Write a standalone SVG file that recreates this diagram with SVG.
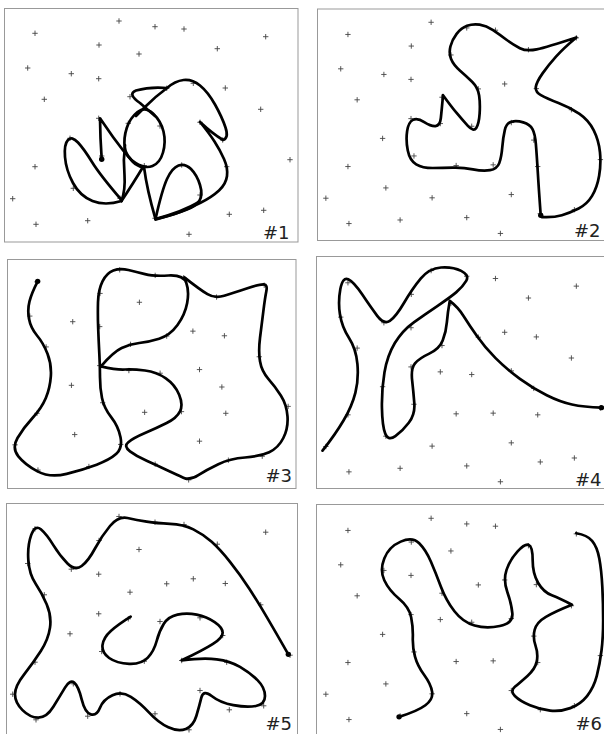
<svg xmlns="http://www.w3.org/2000/svg" width="604" height="734" viewBox="0 0 604 734">
<style>
.frame{fill:#fff;stroke:#999;stroke-width:1}
.c{fill:none;stroke:#000;stroke-width:2.7;stroke-linecap:round;stroke-linejoin:round;vector-effect:non-scaling-stroke}
.dot{fill:#000}
.lbl{font-family:"DejaVu Sans",sans-serif;font-size:18px;fill:#222;text-anchor:end}
</style>
<defs>
<path id="pts" fill="none" stroke="#444" stroke-width="0.9" d="M116.3,21h5.4M119,18.3v5.4M152.3,26.7h5.4M155,24v5.4M181.3,29h5.4M184,26.3v5.4M32.3,33.3h5.4M35,30.6v5.4M263,36.7h5.4M265.7,34v5.4M96.3,45h5.4M99,42.3v5.4M214.6,48.7h5.4M217.3,46v5.4M136.3,54h5.4M139,51.3v5.4M25,68h5.4M27.7,65.3v5.4M68.6,73.7h5.4M71.3,71v5.4M96,78.7h5.4M98.7,76v5.4M190.6,83.3h5.4M193.3,80.6v5.4M222.6,88h5.4M225.3,85.3v5.4M164,88.3h5.4M166.7,85.6v5.4M127.3,96.7h5.4M130,94v5.4M41.6,99.3h5.4M44.3,96.6v5.4M258,109.3h5.4M260.7,106.6v5.4M96,118.3h5.4M98.7,115.6v5.4M125.6,123.3h5.4M128.3,120.6v5.4M197.3,122.3h5.4M200,119.6v5.4M157.3,126h5.4M160,123.3v5.4M67.3,138.3h5.4M70,135.6v5.4M220,140h5.4M222.7,137.3v5.4M99,156h5.4M101.7,153.3v5.4M287.3,159.7h5.4M290,157v5.4M141.6,165.7h5.4M144.3,163v5.4M179,165h5.4M181.7,162.3v5.4M224,166.7h5.4M226.7,164v5.4M32.3,166.7h5.4M35,164v5.4M70.6,188.3h5.4M73.3,185.6v5.4M117.3,198.3h5.4M120,195.6v5.4M197.3,195h5.4M200,192.3v5.4M10,198.7h5.4M12.7,196v5.4M261,210.3h5.4M263.7,207.6v5.4M226.6,214.3h5.4M229.3,211.6v5.4M152.3,218.3h5.4M155,215.6v5.4M85,220.7h5.4M87.7,218v5.4M33.3,224.3h5.4M36,221.6v5.4M186.3,234.3h5.4M189,231.6v5.4"/>
</defs>
<rect width="604" height="734" fill="#fff"/>

<g id="panel1">
<rect class="frame" x="4.5" y="8.5" width="293.5" height="233.5"/>
<use href="#pts"/>
<path class="c" d="M101.7,159.3 L100.5,138 L100,118.3 L113,137 Q123,151 133,162 Q137,166 143.5,167.5"/>
<path class="c" d="M135.5,163 Q145,169 152.5,166 Q160,163 163,152.5 Q166,142 163.5,131.5 Q161,121 153,113.5 Q145,106 137.5,112 Q130,118 126.75,128 Q123.5,138 124.75,147.5 Q126,157 135.5,163Z"/>
<path class="c" d="M155,116 L140,103 Q127,94 136,90.5 Q150,86.5 167,88 Q156,96 145,107 L136,116"/>
<path class="c" d="M167,88 Q175,81 183.5,80 Q192,79 200,85.5 Q208,92 215,104.5 Q222,117 225.5,127.5 Q229,138 223,140 Q213,134 200,122 Q209,133 214.5,141.5 Q220,150 224,159 Q228,168 227,176 Q226,184 219,190.5 Q212,197 201,202.5 Q190,208 180,212 Q170,216 155.5,219"/>
<path class="c" d="M125,145 Q123,160 124.5,175 Q125.5,190 121.5,201"/>
<path class="c" d="M143,167 Q134,182 121.5,201"/>
<path class="c" d="M121.5,201 Q105,206 92.5,201 Q80,196 73,183 Q66,170 65,157 Q64,144 68,140 Q72,136 78,142.5 Q84,149 92,162 Q100,175 121.5,200"/>
<path class="c" d="M144,167 Q147,190 155.5,219"/>
<path class="c" d="M155.5,219 Q162,190 167,179 Q172,168 178.5,165.5 Q185,163 191,169 Q197,175 200,185 Q203,195 199.5,200.5 Q196,206 187,209.5 Q178,213 156,219.5"/>
<path class="c" d="M157,218.5 Q182,212 199,202"/>
<circle class="dot" cx="101.7" cy="159.3" r="2.7"/>
<text class="lbl" x="289.5" y="238.7">#1</text>
</g>

<g id="panel2">
<rect class="frame" x="317.5" y="9" width="300" height="231.5"/>
<use href="#pts" transform="translate(313.3,1.5) scale(0.99)"/>
<g transform="translate(301.7,-0.5) scale(0.3357)">
<path class="c" d="M712,643 Q706,560 703,510 Q700,460 697.5,430 Q695,400 687.5,386 Q680,372 660,366 Q640,360 625,364 Q610,368 605,389 Q600,410 597.5,440 Q595,470 588.5,487.5 Q582,505 561,508.5 Q540,512 510,506 Q480,500 450,501 Q420,502 390,502 Q360,502 341,491 Q322,480 316,450 Q310,420 314,392.5 Q318,365 331.5,358.5 Q345,352 365,365 Q385,378 398.5,377 Q412,376 414.5,353 Q417,330 421,285 Q445,318 461.5,338 Q478,358 495,376.5 Q512,395 520,382.5 Q528,370 530,340 Q532,310 528.5,286 Q525,262 507.5,245 Q490,228 471,211.5 Q452,195 445,177.5 Q438,160 443,140 Q448,120 461.5,102.5 Q475,85 492.5,78.5 Q510,72 530,75 Q550,78 570,91.5 Q590,105 610,120 Q630,135 650,145 Q670,155 700,148.5 Q730,142 818,113 Q780,145 757.5,170 Q735,195 717.5,220 Q700,245 697.5,260 Q695,275 712.5,285 Q730,295 765,308.5 Q800,322 827.5,341 Q855,360 870,390 Q885,420 888.5,455 Q892,490 886,525 Q880,560 865,585 Q850,610 825,622.5 Q800,635 775,642.5 Q750,650 715,648"/>
<circle class="dot" cx="712" cy="643" r="8"/>
</g>
<text class="lbl" x="600.5" y="237">#2</text>
</g>

<g id="panel3">
<rect class="frame" x="7.5" y="259.5" width="288.5" height="229"/>
<use href="#pts" transform="translate(2.5,249.1) scale(0.985)"/>
<g transform="translate(0,248) scale(0.33333)">
<path class="c" d="M113,100 Q95,135 88.5,160 Q82,185 87,212.5 Q92,240 111,262.5 Q130,285 142.5,317.5 Q155,350 152.5,385 Q150,420 137.5,450 Q125,480 97.5,510 Q70,540 52.5,570 Q35,600 55,625 Q75,650 112.5,670 Q150,690 200,677.5 Q250,665 290,650 Q330,635 349,617.5 Q368,600 361.5,567.5 Q355,535 333.5,507.5 Q312,480 306,450 Q300,420 300,387.5 Q300,355 298,317.5 Q296,280 294.5,240 Q293,200 294,162.5 Q295,125 307.5,100 Q320,75 340,67.5 Q360,60 385,66 Q410,72 435,78.5 Q460,85 505,82.5 Q550,80 559,105 Q568,130 561.5,165 Q555,200 532.5,231 Q510,262 477.5,272 Q445,282 417.5,285 Q390,288 365,300 Q340,312 303,355 Q350,366 375,364.5 Q400,363 435,367.5 Q470,372 497.5,391 Q525,410 537.5,440 Q550,470 540,490 Q530,510 500,525 Q470,540 435,555 Q400,570 385,582.5 Q370,595 390,610 Q410,625 440,638.5 Q470,652 500,666 Q530,680 550,689 Q570,698 595,681.5 Q620,665 655,648.5 Q690,632 735,628.5 Q780,625 807.5,612.5 Q835,600 850,570 Q865,540 862.5,505 Q860,470 842.5,442.5 Q825,415 805,392.5 Q785,370 780,340 Q775,310 780,270 Q785,230 790,190 Q795,150 799,130 Q803,110 791.5,109 Q780,108 740,121.5 Q700,135 672.5,143.5 Q645,152 622.5,138.5 Q600,125 553,88"/>
<circle class="dot" cx="113" cy="100" r="8"/>
</g>
<text class="lbl" x="292" y="481.5">#3</text>
</g>

<g id="panel4">
<rect class="frame" x="316.5" y="256.5" width="300" height="232"/>
<use href="#pts" transform="translate(313.3,249.8) scale(0.99)"/>
<g transform="translate(301.7,248.2) scale(0.3357)">
<path class="c" d="M62,603 Q100,555 125,512.5 Q150,470 160,430 Q170,390 166,345 Q162,300 141,267.5 Q120,235 114,197.5 Q108,160 115,122.5 Q122,85 138.5,92.5 Q155,100 180,137.5 Q205,175 225,201.5 Q245,228 262.5,216.5 Q280,205 305,162.5 Q330,120 355,90 Q380,60 415,57.5 Q450,55 475,67.5 Q500,80 490,97.5 Q480,115 460,131.5 Q440,148 405,171.5 Q370,195 335,220 Q300,245 277.5,282.5 Q255,320 246.5,370 Q238,420 239,475 Q240,530 249,552.5 Q258,575 279,560 Q300,545 319,520 Q338,495 335.5,462.5 Q333,430 329,394 Q325,358 337.5,343 Q350,328 380,314 Q410,300 420,275 Q430,250 432.5,220 Q435,190 441,157 Q465,175 482.5,202.5 Q500,230 522.5,262.5 Q545,295 577.5,327.5 Q610,360 650,389 Q690,418 730,438 Q770,458 805,465.5 Q840,473 893,475"/>
<circle class="dot" cx="893" cy="475" r="8"/>
</g>
<text class="lbl" x="601.5" y="485.7">#4</text>
</g>

<g id="panel5">
<rect class="frame" x="6.5" y="503.5" width="291" height="240"/>
<use href="#pts" transform="translate(0,495.5)"/>
<g transform="translate(0,496) scale(0.33333)">
<path class="c" d="M392,362 Q355,385 332.5,405 Q310,425 307.5,447.5 Q305,470 327.5,486 Q350,502 387.5,503.5 Q425,505 443.5,485 Q462,465 470,435 Q478,405 491.5,383.5 Q505,362 532.5,356 Q560,350 590,356 Q620,362 644,378.5 Q668,395 668,410 Q668,425 639,443.5 Q610,462 545,493 Q610,485 650,490 Q690,495 720,512.5 Q750,530 772.5,552.5 Q795,575 795,600 Q795,625 767.5,630 Q740,635 700,627.5 Q660,620 635,600 Q610,580 604,605 Q598,630 589,660 Q580,690 557.5,699 Q535,708 505,694 Q475,680 447.5,650 Q420,620 392.5,602.5 Q365,585 337.5,597.5 Q310,610 300,635 Q290,660 272.5,655 Q255,650 245,610 Q235,570 222.5,560 Q210,550 195,575 Q180,600 160,632.5 Q140,665 115,665 Q90,665 67.5,642.5 Q45,620 45,595 Q45,570 72.5,535 Q100,500 122.5,465 Q145,430 150,395 Q155,360 140,325 Q125,290 106.5,262.5 Q88,235 85,192.5 Q82,150 93.5,117.5 Q105,85 122.5,100 Q140,115 160,147.5 Q180,180 202.5,202.5 Q225,225 245,210 Q265,195 285,157.5 Q305,120 330,90 Q355,60 382.5,66 Q410,72 440,77 Q470,82 510,83.5 Q550,85 580,100 Q610,115 635,137.5 Q660,160 690,197.5 Q720,235 747.5,277.5 Q775,320 800,362.5 Q825,405 865,475"/>
<circle class="dot" cx="865" cy="475" r="8"/>
</g>
<text class="lbl" x="292" y="729.5">#5</text>
</g>

<g id="panel6">
<rect class="frame" x="316.5" y="504.5" width="300" height="240"/>
<use href="#pts" transform="translate(313.3,497.5) scale(0.99)"/>
<g transform="translate(301.7,496.3) scale(0.3357)">
<path class="c" d="M290,657 Q345,640 368.5,622.5 Q392,605 388.5,582.5 Q385,560 365,532.5 Q345,505 337.5,477.5 Q330,450 331,420 Q332,390 326,360 Q320,330 290,305 Q260,280 246,250 Q232,220 246,185 Q260,150 295,135 Q330,120 350,140 Q370,160 385,195 Q400,230 415,270 Q430,310 455,342.5 Q480,375 515,385 Q550,395 590,386.5 Q630,378 627.5,349 Q625,320 612.5,285 Q600,250 610,220 Q620,190 642.5,165 Q665,140 676.5,145 Q688,150 688,190 Q688,230 704,257.5 Q720,285 745,295 Q770,305 805,323 Q755,343 727.5,359 Q700,375 694,397.5 Q688,420 696.5,445 Q705,470 700,492.5 Q695,515 672.5,535 Q650,555 635,567.5 Q620,580 635,595 Q650,610 680,622.5 Q710,635 740,638.5 Q770,642 800,631 Q830,620 850,595 Q870,570 879,535 Q888,500 893,460 Q898,420 898,370 Q898,320 895.5,270 Q893,220 886.5,185 Q880,150 865,132.5 Q850,115 818,110"/>
<circle class="dot" cx="290" cy="657" r="8"/>
</g>
<text class="lbl" x="602" y="730">#6</text>
</g>
</svg>
